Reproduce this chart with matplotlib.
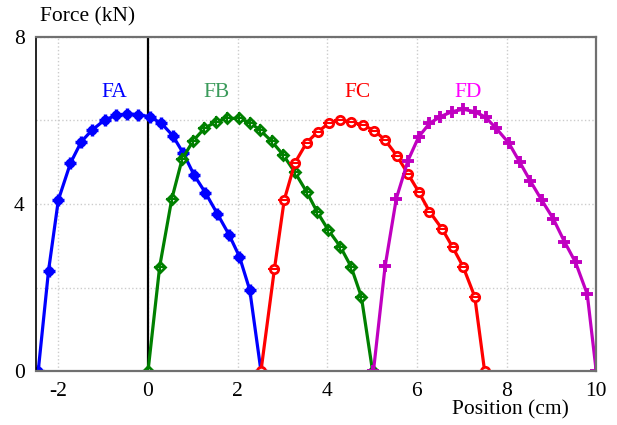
import matplotlib.pyplot as plt
from matplotlib.ticker import MultipleLocator

plt.rcParams['font.family'] = ['Liberation Serif', 'DejaVu Serif']
plt.rcParams['axes.unicode_minus'] = False

# Force curves (position in cm, force in kN)
fa_x = [-2.45, -2.22, -2.0, -1.73, -1.49, -1.25, -0.97, -0.72, -0.46, -0.22, 0.04,
        0.30, 0.55, 0.79, 1.03, 1.28, 1.55, 1.81, 2.04, 2.27, 2.52]
fa_y = [0, 2.40, 4.10, 4.98, 5.49, 5.77, 6.01, 6.12, 6.16, 6.14, 6.09,
        5.93, 5.64, 5.21, 4.69, 4.27, 3.76, 3.26, 2.74, 1.94, 0]

fb_x = [0.0, 0.26, 0.53, 0.76, 1.01, 1.26, 1.51, 1.77, 2.04, 2.27, 2.50,
        2.76, 3.02, 3.27, 3.54, 3.78, 4.02, 4.29, 4.53, 4.76, 5.01]
fb_y = [0, 2.50, 4.12, 5.07, 5.52, 5.81, 5.97, 6.05, 6.05, 5.95, 5.77,
        5.50, 5.17, 4.77, 4.29, 3.80, 3.38, 2.98, 2.50, 1.78, 0]

fc_x = [2.52, 2.82, 3.04, 3.28, 3.54, 3.79, 4.03, 4.29, 4.53, 4.79, 5.05,
        5.29, 5.55, 5.80, 6.04, 6.28, 6.57, 6.80, 7.03, 7.29, 7.51]
fc_y = [0, 2.44, 4.10, 4.99, 5.47, 5.73, 5.93, 6.01, 5.97, 5.89, 5.76,
        5.53, 5.16, 4.72, 4.29, 3.82, 3.39, 2.96, 2.50, 1.78, 0]

fd_x = [5.03, 5.29, 5.54, 5.80, 6.04, 6.28, 6.52, 6.78, 7.03, 7.29, 7.53,
        7.77, 8.05, 8.29, 8.53, 8.78, 9.04, 9.29, 9.54, 9.80, 10.0]
fd_y = [0, 2.51, 4.13, 5.04, 5.61, 5.93, 6.09, 6.21, 6.27, 6.21, 6.08,
        5.81, 5.46, 5.01, 4.55, 4.10, 3.65, 3.10, 2.60, 1.84, 0]

labels = ['FA', 'FB', 'FC', 'FD']
label_x = [-0.75, 1.53, 4.68, 7.14]
label_y = 6.66

fig = plt.figure(figsize=(6.17, 4.25), dpi=100)
ax = fig.add_axes([0.0583, 0.127, 0.908, 0.786])

lw = 2.3
# FA - filled blobs with a cross
ax.plot(fa_x, fa_y, color='#0000ff', lw=lw, marker='o', ms=6, mfc='#0000ff', mec='#0000ff')
ax.plot(fa_x, fa_y, ls='none', marker='+', ms=8.5, mew=2.5, color='#0000ff')
# FB - diamonds
ax.plot(fb_x, fb_y, color='#008000', lw=lw, marker='D', ms=5, mfc='white', mec='#008000', mew=2)
ax.plot(fb_x, fb_y, ls='none', marker='+', ms=8, mew=1.5, color='#008000')
# FC - open circles
ax.plot(fc_x, fc_y, color='#ff0000', lw=lw, marker='o', ms=6, mfc='white', mec='#ff0000', mew=2)
ax.plot(fc_x, fc_y, ls='none', marker='_', ms=8, mew=1.5, color='#ff0000')
# FD - plus signs
ax.plot(fd_x, fd_y, color='#c000c0', lw=lw, marker='+', ms=8.5, mew=2.8)

label_colors = ['#0000ff', '#3a9a5a', '#ff0000', '#ff00ff']
for lab, lx, c in zip(labels, label_x, label_colors):
    ax.text(lx, label_y, lab, color=c, fontsize=15.5, ha='center', va='center')

ax.axvline(0, color='black', lw=1.6, zorder=1)

ax.set_xlim(-2.5, 10)
ax.set_ylim(0, 8)
ax.xaxis.set_major_locator(MultipleLocator(2))
ax.yaxis.set_major_locator(MultipleLocator(4))
ax.yaxis.set_minor_locator(MultipleLocator(2))
ax.grid(which='both', color='#cccccc', ls=':', lw=1)
ax.set_axisbelow(True)
ax.tick_params(which='both', length=0, labelsize=15.5, pad=8)

ax.spines['left'].set_color('black')
ax.spines['left'].set_linewidth(1.2)
for s in ['top', 'right', 'bottom']:
    ax.spines[s].set_color('#707070')
    ax.spines[s].set_linewidth(1.6)

fig.text(0.065, 0.96, 'Force (kN)', fontsize=15.5, ha='left', va='center')
fig.text(0.827, 0.035, 'Position (cm)', fontsize=15.5, ha='center', va='center')

fig.savefig('out.png', dpi=100)
